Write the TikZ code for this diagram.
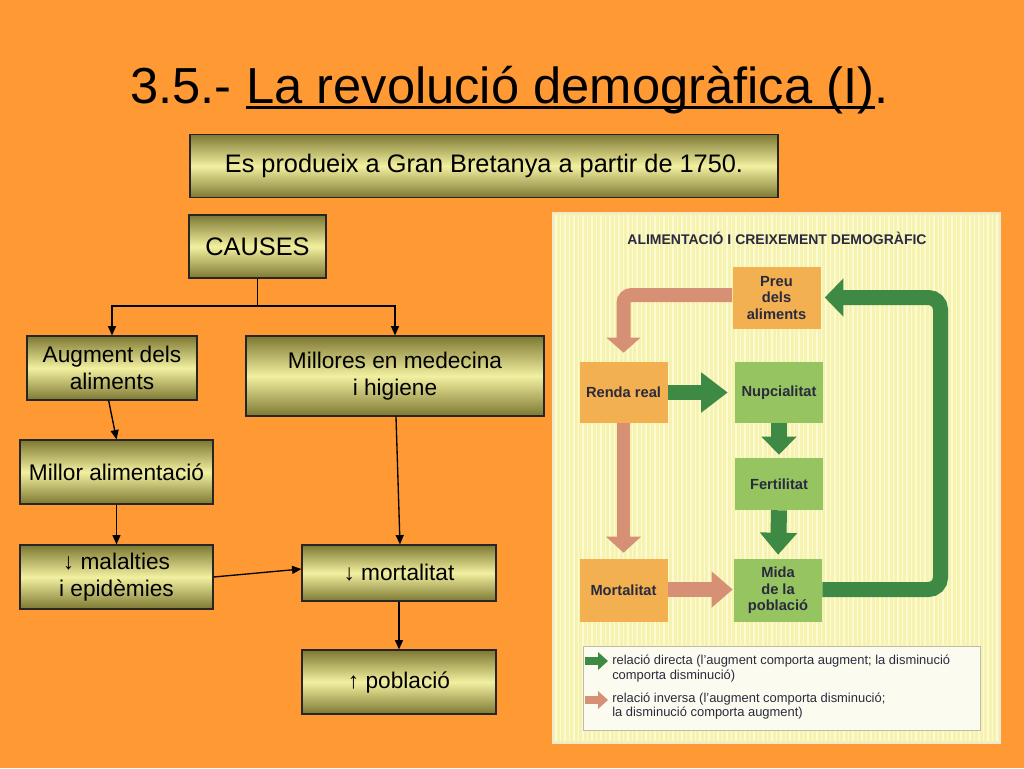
\documentclass[tikz,border=0pt]{standalone}
\usepackage{fontspec}
\setmainfont{Liberation Sans}
\usetikzlibrary{arrows.meta,calc}
\definecolor{bg}{RGB}{255,153,51}
\definecolor{boxdark}{RGB}{125,120,50}
\definecolor{boxlight}{RGB}{242,240,160}
\definecolor{panelbg}{RGB}{246,242,176}
\definecolor{panelstripe}{RGB}{252,250,210}
\definecolor{porange}{RGB}{242,176,80}
\definecolor{pgreen}{RGB}{150,196,96}
\definecolor{agreen}{RGB}{62,138,68}
\definecolor{asalmon}{RGB}{214,144,118}
\definecolor{ptext}{RGB}{42,42,62}
\tikzset{
  box/.style={draw=black!85, line width=0.9pt, top color=boxdark, bottom color=boxdark, middle color=boxlight, inner sep=2pt, align=center, text=black},
  bigtext/.style={font=\fontsize{19}{23}\selectfont},
  midtext/.style={font=\fontsize{17}{20.5}\selectfont},
  conn/.style={line width=1pt, -{Triangle[length=7pt,width=6pt]}},
  pbox/.style={inner sep=0pt, align=center, text=ptext, font=\fontsize{11}{12.5}\selectfont\bfseries, minimum width=66pt},
  obox/.style={pbox, fill=porange},
  gbox/.style={pbox, fill=pgreen},
  legtext/.style={anchor=west, align=left, inner sep=0pt, text=ptext, font=\fontsize{9.7}{10.8}\selectfont},
}
\begin{document}
\begin{tikzpicture}[x=0.75pt,y=-0.75pt]
\fill[bg] (0,0) rectangle (1024,768);
\useasboundingbox (0,0) rectangle (1024,768);

% ---- title
\node[anchor=base west, inner sep=0pt, font=\fontsize{38}{44}\selectfont] (t1) at (130,103) {3.5.-};
\node[anchor=base west, inner sep=0pt, font=\fontsize{38}{44}\selectfont] (t2) at ([xshift=10.6pt]t1.base east) {La revolució demogràfica (I)};
\node[anchor=base west, inner sep=0pt, font=\fontsize{38}{44}\selectfont] (t3) at (t2.base east) {.};
\draw[line width=2.2pt] ([yshift=-3.6pt]t2.base west) -- ([yshift=-3.6pt]t2.base east);

% ---- left boxes
\node[box, bigtext, minimum width=441pt, minimum height=47.5pt] (top) at (484,166) {Es produeix a Gran Bretanya a partir de 1750.};
\node[box, bigtext, minimum width=102.75pt, minimum height=47.25pt] (causes) at (257.5,246.5) {CAUSES};
\node[box, midtext, minimum width=127.5pt, minimum height=48pt] (aug) at (112,368) {Augment dels\\aliments};
\node[box, midtext, minimum width=223.5pt, minimum height=60pt] (mil) at (395,376) {Millores en medecina\\i higiene};
\node[box, midtext, minimum width=144.75pt, minimum height=48pt] (mal) at (116.5,472) {Millor alimentació};
\node[box, midtext, minimum width=144.75pt, minimum height=48pt] (epi) at (116.5,577) {↓ malalties\\i epidèmies};
\node[box, midtext, minimum width=145.5pt, minimum height=42pt] (mort) at (399,573) {↓ mortalitat};
\node[box, midtext, minimum width=145.5pt, minimum height=48pt] (pob) at (399,682) {↑ població};

% ---- connectors
\coordinate (split) at (257.5,306);
\draw[line width=1pt] (causes.south) -- (split);
\draw[conn] (split) -| (aug.north);
\draw[conn] (split) -| (mil.north);
\draw[conn] ([xshift=-2.5pt]aug.south) -- (mal.north);
\draw[conn] (mal.south) -- (epi.north);
\draw[conn] ([xshift=0.75pt]mil.south) -- ([xshift=0.75pt]mort.north);
\draw[conn] (epi.east) -- ([yshift=3pt]mort.west);
\draw[conn] (mort.south) -- (pob.north);

% ---- right panel (scanned figure)
\fill[panelbg] (553,213) rectangle (1000,743);
\foreach \x in {556,560.5,...,998} \draw[panelstripe, line width=1.3pt] (\x,215) -- (\x,741);
\draw[draw={rgb,255:red,238;green,234;blue,205}, line width=1.5pt] (553,213) rectangle (1000,743);

\node[inner sep=0pt, text=ptext, font=\fontsize{10.5}{12}\selectfont\bfseries] (ptitle) at (777,238) {ALIMENTACIÓ I CREIXEMENT DEMOGRÀFIC};

\node[obox, minimum height=46.5pt] (preu) at (776.5,298) {Preu\\dels\\aliments};
\node[obox, minimum height=45.75pt] (renda) at (623.5,392.5) {Renda real};
\node[gbox, minimum height=45.75pt] (nupc) at (779,392.5) {Nupcialitat};
\node[gbox, minimum height=39pt] (fert) at (779,484) {Fertilitat};
\node[obox, minimum height=47.25pt] (mortp) at (623.5,590.5) {Mortalitat};
\node[gbox, minimum height=47.25pt] (mida) at (778,590.5) {Mida\\de la\\població};

% thick arrows
\draw[asalmon, line width=10.5pt, rounded corners=6pt, -{Triangle[length=11.25pt,width=24.75pt]}, shorten >=6.75pt]
  ([yshift=2.25pt]preu.west) -| (renda.north);
\draw[asalmon, line width=10pt, -{Triangle[length=12pt,width=25.5pt]}, shorten >=4.5pt]
  (renda.south) -- (mortp.north);
\draw[asalmon, line width=11pt, -{Triangle[length=15.75pt,width=26pt]}, shorten >=0.75pt]
  ([yshift=0.75pt]mortp.east) -- ([yshift=0.75pt]mida.west);
\draw[agreen, line width=11.25pt, -{Triangle[length=20pt,width=29pt]}, shorten >=5.25pt]
  (renda.east) -- (nupc.west);
\draw[agreen, line width=12pt, -{Triangle[length=13.5pt,width=25.5pt]}, shorten >=2.25pt]
  (nupc.south) -- (fert.north);
\draw[agreen, line width=12pt, -{Triangle[length=16.5pt,width=27pt]}, shorten >=3pt]
  (fert.south) -- (mida.north);
\coordinate (lc1) at (940.5,589.5);
\coordinate (lc2) at (940.5,297.5);
\draw[agreen, line width=11.25pt, rounded corners=9pt, -{Triangle[length=14pt,width=28pt]}, shorten >=3pt]
  ([yshift=0.75pt]mida.east) -- (lc1) -- (lc2) -- ([yshift=0.375pt]preu.east);

% legend
\node[draw={rgb,255:red,190;green,188;blue,170}, line width=0.6pt, fill={rgb,255:red,252;green,251;blue,240}, minimum width=297.75pt, minimum height=63pt, inner sep=0pt] (legend) at (781.5,688) {};
\coordinate (lg1s) at (585,661);
\coordinate (lg1e) at (608,661);
\coordinate (lg2s) at (585,700);
\coordinate (lg2e) at (608,700);
\draw[agreen, line width=6pt, -{Triangle[length=7.5pt,width=13pt]}] (lg1s) -- (lg1e);
\draw[asalmon, line width=6pt, -{Triangle[length=7.5pt,width=13pt]}] (lg2s) -- (lg2e);
\node[legtext] (leg1) at (612,668.5) {relació directa (l'augment comporta augment; la disminució\\comporta disminució)};
\node[legtext] (leg2) at (612,706) {relació inversa (l'augment comporta disminució;\\la disminució comporta augment)};
\end{tikzpicture}
\end{document}
